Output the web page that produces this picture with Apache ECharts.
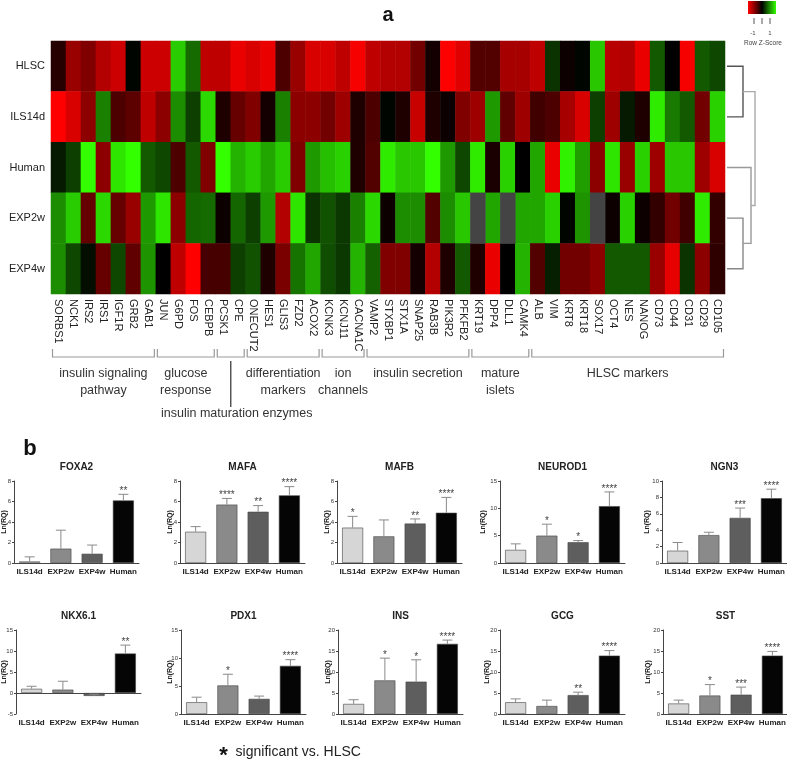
<!DOCTYPE html>
<html><head><meta charset="utf-8">
<script src="https://cdn.jsdelivr.net/npm/echarts@6/dist/echarts.min.js"></script>
<style>html,body{margin:0;padding:0;background:#fff}#c{width:787px;height:767px}</style>
</head><body><div id="c"></div>
<script>
// ---------- heatmap data ----------
const genes = ['SORBS1','NCK1','IRS2','IRS1','IGF1R','GRB2','GAB1','JUN','G6PD','FOS','CEBPB','PCSK1','CPE','ONECUT2','HES1','GLIS3','FZD2','ACOX2','KCNK3','KCNJ11','CACNA1C','VAMP2','STXBP1','STX1A','SNAP25','RAB3B','PIK3R2','PFKFB2','KRT19','DPP4','DLL1','CAMK4','ALB','VIM','KRT8','KRT18','SOX17','OCT4','NES','NANOG','CD73','CD44','CD31','CD29','CD105'];
const samples = ['HLSC','ILS14d','Human','EXP2w','EXP4w'];
const zHLSC   = [-0.15,-0.6,-0.5,-0.7,-0.8,0.02,-0.8,-0.8,0.8,0.42,-0.75,-0.75,-0.92,-0.85,-0.92,-0.3,-0.6,-0.85,-0.85,-0.75,-0.97,-0.75,-0.7,-0.7,-0.45,-0.08,-1,-0.88,-0.32,-0.32,-0.65,-0.65,-0.75,0.2,-0.05,0.02,0.78,-0.72,-0.7,-0.92,0.35,0,-0.97,0.35,0.28];
const zILS14d = [-1,-0.85,-0.55,0.5,-0.3,-0.36,-0.75,-0.55,0.55,0.25,0.85,-0.12,-0.4,-0.5,-0.08,0.5,-0.55,-0.55,-0.45,-0.62,-0.12,-0.3,0.02,-0.12,-0.78,-0.12,-0.05,-0.5,-0.62,0.6,-0.38,-0.62,-0.25,-0.3,-0.65,-0.85,0.25,-0.62,0.1,-0.12,0.92,0.48,0.35,-0.45,0.82];
const zHuman  = [0.1,0.25,1,-0.55,0.9,1,0.35,0.28,-0.3,0.35,-0.5,1,0.7,0.8,0.65,0.8,-0.5,0.6,0.75,0.82,-0.12,-0.32,0.92,0.78,0.78,1,0.6,0.28,0.92,-0.1,0.82,0,0.65,-0.92,0.95,0.62,-0.55,0.9,-0.6,0.82,-0.62,0.78,0.78,-0.62,-0.85];
const zEXP2w  = [0.55,0.8,-0.4,0.85,-0.4,-0.6,0.6,0.9,-0.55,0.4,0.42,-0.05,0.4,0.25,0.6,-0.7,0.9,0.2,0.32,0.22,0.5,0.85,-0.05,0.55,0.55,-0.32,0.55,0.78,null,0.65,null,0.65,0.65,0.82,0.02,0.58,null,-0.05,0.82,-0.05,-0.2,-0.45,-0.25,0.92,-0.2];
const zEXP4w  = [0.55,0.28,0.05,-0.4,0.28,-0.38,0.58,0,-0.75,-1,-0.28,-0.28,0.25,0.32,-0.12,-0.48,0.45,0.65,0.3,0.22,0.7,0.38,-0.5,-0.5,-0.08,-0.7,-0.12,0.35,-0.12,-0.92,0,0.7,-0.32,0.12,-0.45,-0.45,-0.55,0.35,0.35,0.35,-0.6,-0.9,0.2,-0.55,-0.18];
const zRows = [zHLSC, zILS14d, zHuman, zEXP2w, zEXP4w];

// gene groups (first and last gene index)
const groupNames = ['insulin signaling\npathway','glucose\nresponse','insulin maturation enzymes','differentiation\nmarkers','ion\nchannels','insulin secretion','mature\nislets','HLSC markers'];
const groupFirst = [0,7,11,13,18,21,28,32];
const groupLast  = [6,10,12,17,20,27,31,44];

// dendrogram links: [row a, height a, row b, height b, merge height]
const dendroLinks = [
  [0, 0, 1, 0, 1.6],
  [3, 0, 4, 0, 1.6],
  [2, 0, 3.5, 1.6, 2.4],
  [0.5, 1.6, 2.75, 2.4, 2.8]
];

// ---------- bar panel data ----------
const barCats = ['ILS14d','EXP2w','EXP4w','Human'];
const panelTitles = ['FOXA2','MAFA','MAFB','NEUROD1','NGN3','NKX6.1','PDX1','INS','GCG','SST'];
const FOXA2_mean = [0.15,1.4,0.9,6.1],  FOXA2_sd = [0.45,1.8,0.85,0.6],  FOXA2_sig = ['','','','**'];
const MAFA_mean = [3.05,5.7,5.0,6.6],   MAFA_sd = [0.5,0.6,0.6,0.85],    MAFA_sig = ['','****','**','****'];
const MAFB_mean = [3.45,2.6,3.85,4.9],  MAFB_sd = [1.1,1.6,0.45,1.5],    MAFB_sig = ['*','','**','****'];
const NEUROD1_mean = [2.4,5.0,3.8,10.4],NEUROD1_sd = [1.1,2.1,0.3,2.6],  NEUROD1_sig = ['','*','*','****'];
const NGN3_mean = [1.5,3.4,5.5,7.9],    NGN3_sd = [1.0,0.35,1.2,1.1],    NGN3_sig = ['','','***','****'];
const NKX61_mean = [1.0,0.8,-0.7,9.4],  NKX61_sd = [0.6,2.0,0.4,2.0],    NKX61_sig = ['','','','**'];
const PDX1_mean = [2.1,5.1,2.7,8.6],    PDX1_sd = [0.9,2.0,0.5,1.1],     PDX1_sig = ['','*','','****'];
const INS_mean = [2.4,8.0,7.7,16.7],    INS_sd = [1.0,5.3,5.2,0.9],      INS_sig = ['','*','*','****'];
const GCG_mean = [2.8,1.9,4.5,13.9],    GCG_sd = [0.8,1.4,0.7,1.2],      GCG_sig = ['','','**','****'];
const SST_mean = [2.5,4.4,4.6,13.9],    SST_sd = [0.8,2.6,1.8,1.0],      SST_sig = ['','*','***','****'];
const yMin = [0,0,0,0,0,-5,0,0,0,0];
const yMax = [8,8,8,15,10,15,15,20,20,20];
const yStep = [2,2,2,5,2,5,5,5,5,5];

const panelMeans = [FOXA2_mean,MAFA_mean,MAFB_mean,NEUROD1_mean,NGN3_mean,NKX61_mean,PDX1_mean,INS_mean,GCG_mean,SST_mean];
const panelSds = [FOXA2_sd,MAFA_sd,MAFB_sd,NEUROD1_sd,NGN3_sd,NKX61_sd,PDX1_sd,INS_sd,GCG_sd,SST_sd];
const panelSig = [FOXA2_sig,MAFA_sig,MAFB_sig,NEUROD1_sig,NGN3_sig,NKX61_sig,PDX1_sig,INS_sig,GCG_sig,SST_sig];

// ---------- layout / style ----------
const FONT = 'Liberation Sans, Arial, sans-serif';
const panelLeft = [14,180,337,500,662, 16,181,338,500,663];
const nameGaps = [10,10,10,17,15, 12,11,10,13,15];
const panelWidth = 125;
const rowTop = [481, 630];
const rowH = [82, 84];
const barColors = ['#d6d6d6','#8a8a8a','#5e5e5e','#050505'];
const dendroColors = ['#555','#888','#999','#aaa'];

const chart = echarts.init(document.getElementById('c'));

const grids = [], xAxes = [], yAxes = [], series = [];
// heatmap grid
grids.push({left:51, top:41, width:674, height:253, outerBoundsMode:'none'});
xAxes.push({type:'category', gridIndex:0, data:genes, position:'bottom',
  axisLine:{show:false}, axisTick:{show:false}, splitArea:{show:false},
  axisLabel:{rotate:-90, interval:0, fontSize:11, color:'#222', margin:5, fontFamily:FONT}});
yAxes.push({type:'category', gridIndex:0, data:samples, inverse:true,
  axisLine:{show:false}, axisTick:{show:false},
  axisLabel:{fontSize:11, color:'#222', margin:6, fontFamily:FONT}});
// dendrogram grid
grids.push({left:727, top:41, width:28, height:253, outerBoundsMode:'none'});
xAxes.push({type:'value', gridIndex:1, min:0, max:2.8, show:false});
yAxes.push({type:'value', gridIndex:1, min:-0.5, max:4.5, inverse:true, show:false});

const hmData = [], naData = [];
zRows.forEach((row, r) => row.forEach((v, c) => {
  if (v === null) naData.push([c, r, 0]); else hmData.push([c, r, v]);
}));
series.push({type:'heatmap', xAxisIndex:0, yAxisIndex:0, data:hmData, progressive:0,
  itemStyle:{borderWidth:0}, emphasis:{disabled:true}, silent:true});
series.push({type:'heatmap', xAxisIndex:0, yAxisIndex:0, data:naData, progressive:0,
  itemStyle:{color:'#444', borderWidth:0}, emphasis:{disabled:true}, silent:true});
series.push({type:'custom', xAxisIndex:1, yAxisIndex:1, data:dendroLinks, silent:true,
  renderItem:function(params, api){
    const y1=api.value(0), h1=api.value(1), y2=api.value(2), h2=api.value(3), hm=api.value(4);
    const pts=[api.coord([h1,y1]),api.coord([hm,y1]),api.coord([hm,y2]),api.coord([h2,y2])];
    return {type:'polyline', shape:{points:pts}, style:{stroke:dendroColors[params.dataIndex], lineWidth:1.4, fill:null}};
  }});

const graphics = [];
panelTitles.forEach((t, i) => {
  const row = i < 5 ? 0 : 1;
  const gi = grids.length;
  grids.push({left:panelLeft[i], top:rowTop[row], width:panelWidth, height:rowH[row], outerBoundsMode:'none'});
  xAxes.push({type:'category', gridIndex:gi, data:barCats,
    axisLine:{lineStyle:{color:'#444', width:1}}, axisTick:{show:false},
    axisLabel:{interval:0, fontSize:8, fontWeight:'bold', color:'#222', margin:5, fontFamily:FONT}});
  yAxes.push({type:'value', gridIndex:gi, min:yMin[i], max:yMax[i], interval:yStep[i],
    name:'Ln(RQ)', nameLocation:'middle', nameGap:nameGaps[i], nameMoveOverlap:false,
    nameTextStyle:{fontSize:7, fontWeight:'bold', color:'#222', fontFamily:FONT, verticalAlign:'middle'},
    axisLine:{show:true, lineStyle:{color:'#444', width:1}}, axisTick:{show:true, length:2, lineStyle:{color:'#444'}},
    splitLine:{show:false},
    axisLabel:{fontSize:6, color:'#333', margin:3, fontFamily:FONT}});
  const means = panelMeans[i], sds = panelSds[i], sig = panelSig[i];
  series.push({type:'bar', xAxisIndex:gi, yAxisIndex:gi, barWidth:21, silent:true,
    data: means.map((m, j) => ({value:m, itemStyle:{color:barColors[j], borderColor:'#444', borderWidth:0.6}}))});
  series.push({type:'custom', xAxisIndex:gi, yAxisIndex:gi, silent:true, z:5,
    data: means.map((m, j) => [j, m, m + sds[j]]),
    renderItem:function(params, api){
      const x=api.value(0);
      const p0=api.coord([x, api.value(1)]), p1=api.coord([x, api.value(2)]);
      const children=[
        {type:'line', shape:{x1:p0[0], y1:p0[1], x2:p1[0], y2:p1[1]}, style:{stroke:'#8a8a8a', lineWidth:1}},
        {type:'line', shape:{x1:p1[0]-5, y1:p1[1], x2:p1[0]+5, y2:p1[1]}, style:{stroke:'#8a8a8a', lineWidth:1}}
      ];
      const s = sig[params.dataIndex];
      if (s) children.push({type:'text', style:{text:s, x:p1[0], y:p1[1]-3, textAlign:'center', textVerticalAlign:'middle', fontSize:10, fill:'#444', fontFamily:FONT}});
      return {type:'group', children:children};
    }});
  graphics.push({type:'text', style:{text:t, x:panelLeft[i]+panelWidth/2, y:rowTop[row]-14, textAlign:'center', textVerticalAlign:'middle', fontSize:10, fontWeight:'bold', fill:'#222', fontFamily:FONT}});
});

// panel letters, legend key, footnote
graphics.push({type:'text', style:{text:'a', x:388, y:15, textAlign:'center', textVerticalAlign:'middle', fontSize:20, fontWeight:'bold', fill:'#111', fontFamily:FONT}});
graphics.push({type:'text', style:{text:'b', x:30, y:449, textAlign:'center', textVerticalAlign:'middle', fontSize:22, fontWeight:'bold', fill:'#111', fontFamily:FONT}});
graphics.push({type:'rect', shape:{x:748, y:1, width:28, height:13},
  style:{fill:new echarts.graphic.LinearGradient(0,0,1,0,[{offset:0,color:'#ff0000'},{offset:0.5,color:'#000000'},{offset:1,color:'#33ff00'}])}});
[754,762,770].forEach(x => graphics.push({type:'line', shape:{x1:x, y1:18, x2:x, y2:24}, style:{stroke:'#555', lineWidth:1}}));
graphics.push({type:'text', style:{text:'-1', x:753, y:33, textAlign:'center', textVerticalAlign:'middle', fontSize:6, fill:'#444', fontFamily:FONT}});
graphics.push({type:'text', style:{text:'1', x:770, y:33, textAlign:'center', textVerticalAlign:'middle', fontSize:6, fill:'#444', fontFamily:FONT}});
graphics.push({type:'text', style:{text:'Row Z-Score', x:763, y:43, textAlign:'center', textVerticalAlign:'middle', fontSize:6.5, fill:'#444', fontFamily:FONT}});
graphics.push({type:'text', style:{text:'{s|*} significant vs. HLSC', x:290, y:752, textAlign:'center', textVerticalAlign:'middle', fontSize:14, fill:'#222', fontFamily:FONT,
  rich:{s:{fontSize:22, fontWeight:'bold', fill:'#111', padding:[8,4,0,0]}}}});

chart.setOption({
  animation:false,
  textStyle:{fontFamily:FONT},
  grid:grids, xAxis:xAxes, yAxis:yAxes, series:series,
  visualMap:{type:'continuous', min:-1, max:1, seriesIndex:0, show:false, inRange:{color:['#ff0000','#000000','#33ff00']}},
  graphic:graphics
});

// group brackets positioned via the heatmap axis
const colW = 674 / genes.length;
const extra = [];
groupNames.forEach((g, k) => {
  const x0 = chart.convertToPixel({xAxisIndex:0}, genes[groupFirst[k]]) - colW/2 + 1.5;
  const x1 = chart.convertToPixel({xAxisIndex:0}, genes[groupLast[k]]) + colW/2 - 1.5;
  extra.push({type:'polyline', shape:{points:[[x0,349],[x0,357],[x1,357],[x1,349]]}, style:{stroke:'#999', lineWidth:1.2, fill:null}});
  const cx = (x0 + x1) / 2;
  if (k === 2) {
    extra.push({type:'line', shape:{x1:cx, y1:361, x2:cx, y2:407}, style:{stroke:'#555', lineWidth:1.5}});
    extra.push({type:'text', style:{text:g, x:cx+6, y:414, textAlign:'center', textVerticalAlign:'middle', fontSize:12.5, fill:'#333', fontFamily:FONT}});
  } else {
    extra.push({type:'text', style:{text:g, x:cx, y:365, textAlign:'center', textVerticalAlign:'top', fontSize:12.5, lineHeight:17, fill:'#333', fontFamily:FONT}});
  }
});
chart.setOption({graphic: graphics.concat(extra)});
</script></body></html>
